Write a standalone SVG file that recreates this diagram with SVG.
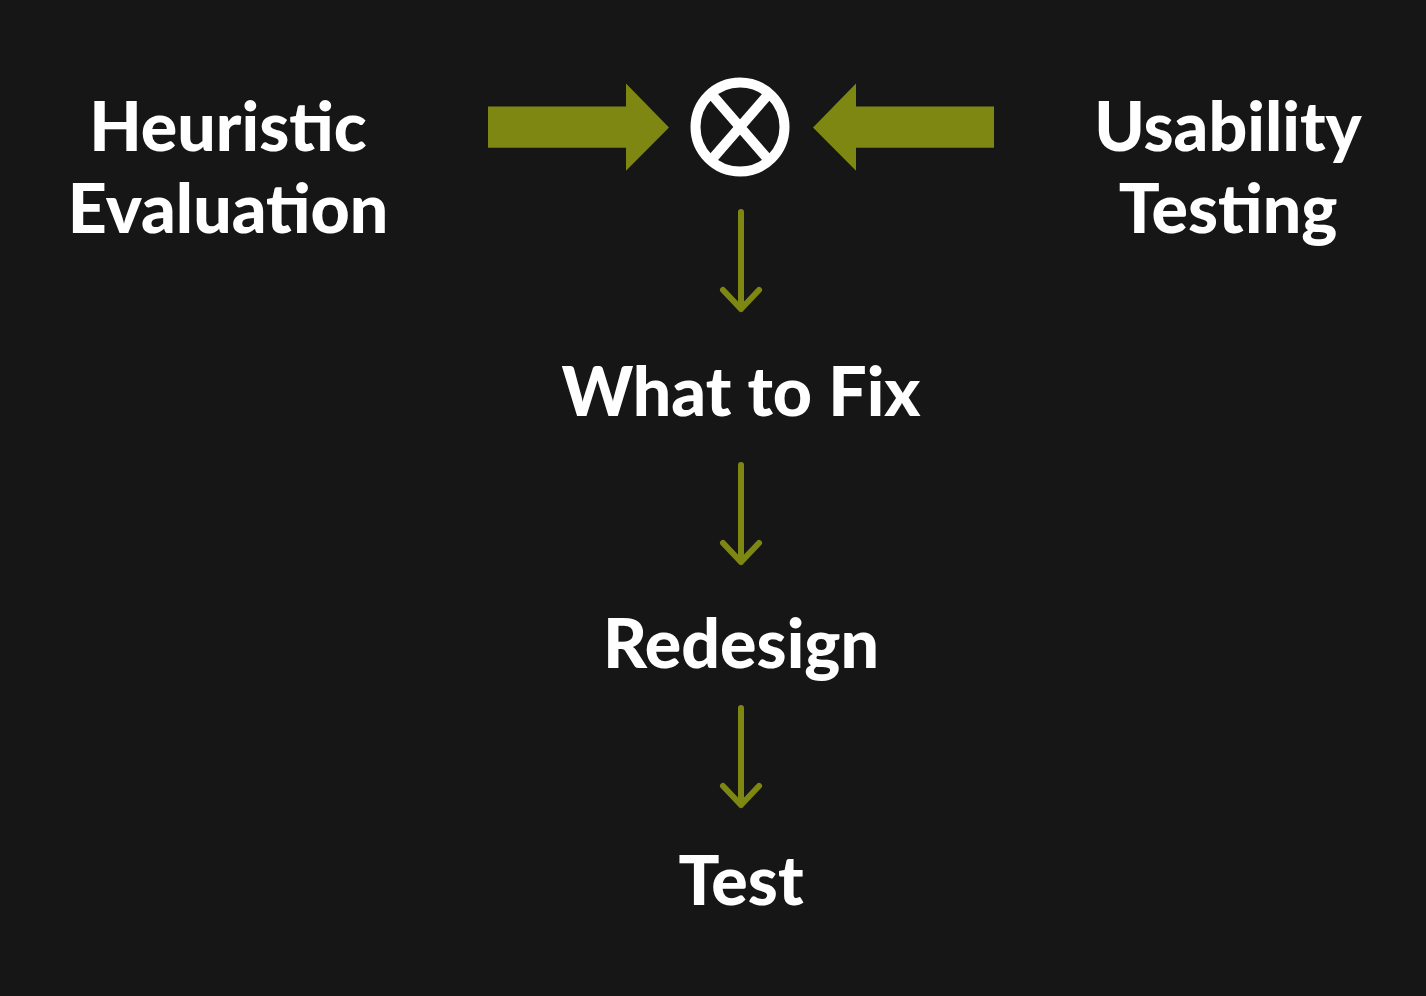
<svg xmlns="http://www.w3.org/2000/svg" width="1426" height="996" viewBox="0 0 1426 996">
<style>
.t{font-family:Lato,"Liberation Sans",sans-serif;font-weight:900;font-size:68px;fill:#ffffff;text-anchor:middle}
.big{fill:#7e8712}
.thin{stroke:#7e8712;stroke-width:6;fill:none;stroke-linecap:round;stroke-linejoin:round}
</style>
<rect width="1426" height="996" fill="#161616"/>
<g id="heuristic"><text class="t" x="228" y="151">Heuristic</text><text class="t" x="228" y="233">Evaluation</text></g>
<g id="usability"><text class="t" x="1228" y="151">Usability</text><text class="t" x="1228" y="233">Testing</text></g>
<g id="combine"><circle cx="740" cy="127" r="44.5" fill="none" stroke="#fff" stroke-width="10"/><path d="M710.8 93.4L769.2 160.6M769.2 93.4L710.8 160.6" stroke="#fff" stroke-width="10"/></g>
<g id="whattofix"><text class="t" x="741" y="416">What to Fix</text></g>
<g id="redesign"><text class="t" x="741" y="668">Redesign</text></g>
<g id="test"><text class="t" x="741" y="905">Test</text></g>
<g id="connectors">
<polygon class="big" points="488,106.5 626,106.5 626,83.5 669,127.4 626,170.7 626,147.7 488,147.7"/>
<polygon class="big" points="994,106.5 856,106.5 856,83.5 813,127.4 856,170.7 856,147.7 994,147.7"/>
<path class="thin" d="M741 212V309M723 290L741 309L759 290"/>
<path class="thin" d="M741 465V562M723 543L741 562L759 543"/>
<path class="thin" d="M741 708V805M723 786L741 805L759 786"/>
</g>
</svg>
